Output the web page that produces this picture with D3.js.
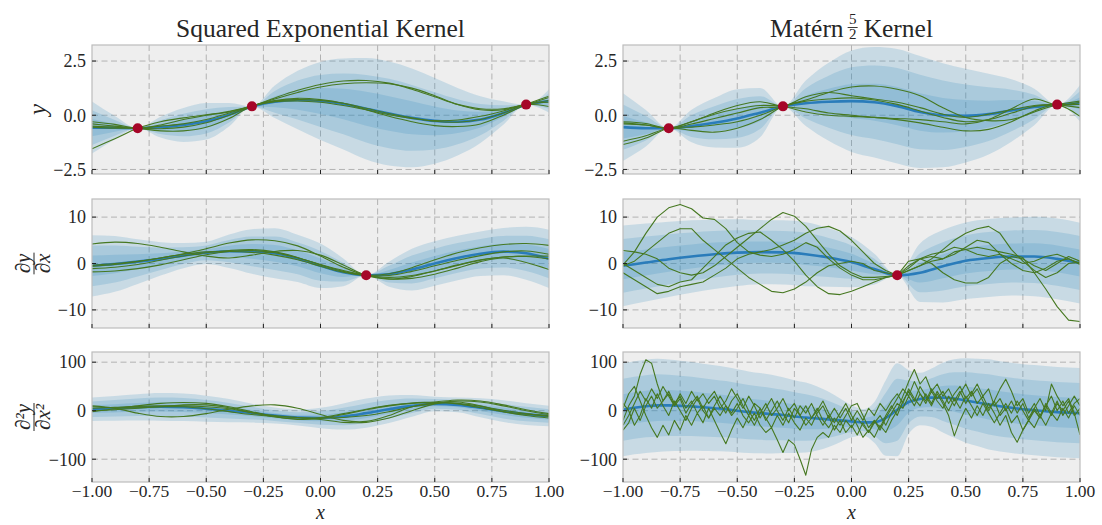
<!DOCTYPE html>
<html>
<head>
<meta charset="utf-8">
<script src="https://cdn.jsdelivr.net/npm/d3@7"></script>
<style>
  body { margin: 0; background: #fff; }
  svg text { font-family: "Liberation Serif", "DejaVu Serif", serif; fill: #262626; }
</style>
</head>
<body>
<svg id="chart" width="1102" height="525" font-family="Liberation Serif, DejaVu Serif, serif"></svg>
<script>
"use strict";

// ---- grids ----
var xCoarse = [-1,-0.9,-0.8,-0.7,-0.6,-0.5,-0.4,-0.3,-0.2,-0.1,0,0.1,0.2,0.3,0.4,0.5,0.6,0.7,0.8,0.9,1];
var xFine = [-1,-0.95,-0.9,-0.85,-0.8,-0.75,-0.7,-0.65,-0.6,-0.55,-0.5,-0.45,-0.4,-0.35,-0.3,-0.25,-0.2,-0.15,-0.1,-0.05,
  0,0.05,0.1,0.15,0.2,0.25,0.3,0.35,0.4,0.45,0.5,0.55,0.6,0.65,0.7,0.75,0.8,0.85,0.9,0.95,1];
var xNoisy = [-1,-0.975,-0.95,-0.925,-0.9,-0.875,-0.85,-0.825,-0.8,-0.775,-0.75,-0.725,-0.7,-0.675,-0.65,-0.625,-0.6,-0.575,-0.55,-0.525,
  -0.5,-0.475,-0.45,-0.425,-0.4,-0.375,-0.35,-0.325,-0.3,-0.275,-0.25,-0.225,-0.2,-0.175,-0.15,-0.125,-0.1,-0.075,-0.05,-0.025,
  0,0.025,0.05,0.075,0.1,0.125,0.15,0.175,0.2,0.225,0.25,0.275,0.3,0.325,0.35,0.375,0.4,0.425,0.45,0.475,
  0.5,0.525,0.55,0.575,0.6,0.625,0.65,0.675,0.7,0.725,0.75,0.775,0.8,0.825,0.85,0.875,0.9,0.925,0.95,0.975,1];

// ---- observations ----
var obsX = [-0.8, -0.3, 0.9];
var obsY = [-0.6, 0.41, 0.49];
var obsDx = [0.2];
var obsDy = [-2.55];

// ---- squared exponential: y ----
var seYMean = [-0.57,-0.58,-0.6,-0.55,-0.45,-0.28,0.02,0.4,0.62,0.7,0.66,0.52,0.3,0.08,-0.12,-0.26,-0.3,-0.2,0.1,0.48,0.66];
var seYSd = [0.4,0.18,0,0.16,0.26,0.28,0.18,0,0.25,0.45,0.6,0.7,0.78,0.8,0.76,0.66,0.52,0.36,0.18,0,0.18];
var seYS1 = [-0.3,-0.42,-0.6,-0.45,-0.2,0,0.18,0.42,0.8,1.15,1.42,1.58,1.6,1.48,1.2,0.85,0.5,0.3,0.3,0.5,0.82];
var seYS2 = [-0.5,-0.55,-0.6,-0.5,-0.4,-0.2,0.1,0.42,0.75,1.05,1.3,1.45,1.5,1.45,1.25,0.9,0.5,0.25,0.25,0.5,0.68];
var seYS3 = [-1.55,-1.08,-0.6,-0.3,-0.12,0.02,0.15,0.42,0.68,0.78,0.72,0.55,0.25,-0.05,-0.3,-0.48,-0.52,-0.4,0,0.5,0.88];
var seYS4 = [-0.55,-0.6,-0.6,-0.62,-0.55,-0.35,0,0.42,0.65,0.72,0.68,0.55,0.32,0.08,-0.12,-0.28,-0.32,-0.2,0.1,0.5,0.6];
var seYS5 = [-0.4,-0.5,-0.6,-0.72,-0.72,-0.55,-0.15,0.42,0.62,0.66,0.6,0.45,0.25,0.02,-0.15,-0.25,-0.22,-0.05,0.2,0.5,0.4];

// ---- squared exponential: dy/dx ----
var seDyMean = [-0.5,-0.1,0.4,1,1.7,2.3,2.65,2.6,2.2,1.1,-0.5,-1.9,-2.55,-2.3,-1.3,0,1.2,2.1,2.55,2.2,1];
var seDySd = [2.2,2,1.6,1.2,0.9,0.8,1.2,1.6,1.8,1.7,1.6,1,0,0.9,1.5,1.6,1.6,1.6,1.7,1.9,2.1];
var seDyS1 = [4.2,4.6,4.3,3.5,2.5,1.6,1.2,1.8,2.6,2.8,1.8,-0.3,-2.55,-3.4,-2.8,-1.6,-0.3,0.8,1.4,1.6,1.6];
var seDyS2 = [-0.4,0,0.5,1.2,2.1,3.2,4.4,5.1,4.9,3.8,1.6,-0.8,-2.55,-3,-2.6,-1.6,-0.4,0.7,1.4,1.5,1];
var seDyS3 = [-0.6,-0.2,0.4,1.2,2,2.5,2.6,2.4,1.8,0.8,-0.6,-1.9,-2.55,-2.2,-0.9,0.8,2.3,3.4,4.1,4.3,3.9];
var seDyS4 = [-1.1,-0.8,-0.2,0.7,1.6,2.3,2.8,3,2.5,1.3,-0.3,-1.7,-2.55,-2.6,-1.7,-0.5,0.7,1.7,2.5,2.7,2];
var seDyS5 = [-1.8,-1.6,-1.1,-0.3,0.8,1.9,2.6,2.8,2.3,1.2,-0.2,-1.5,-2.55,-3.3,-3.2,-2.3,-1,0.4,1.2,0.2,-1.3];

// ---- squared exponential: d2y/dx2 ----
var seD2Mean = [3,5,7,8,7,4,0,-5,-10,-14,-15,-12,-5,3,10,14,12,6,-1,-7,-11];
var seD2Sd = [8,8.5,9,9.5,9.5,9,8,6.5,5.5,5.5,7,9,10,9.5,7.5,5,5,6.5,7.5,7.5,7];
var seD2S1 = [10,5,-5,-12,-12,-6,3,10,12,5,-8,-20,-22,-10,8,16,14,6,-2,-7,-10];
var seD2S2 = [-2,4,10,15,17,15,8,-2,-12,-18,-16,-8,2,10,15,17,15,9,1,-6,-12];
var seD2S3 = [5,7,9,10,10,8,4,-4,-10,-14,-15,-14,-10,-2,8,15,20,18,10,0,-8];
var seD2S4 = [8,6,6,8,12,12,6,-4,-13,-17,-14,-6,3,11,16,18,22,20,12,2,-6];
var seD2S5 = [0,2,5,8,8,4,-2,-8,-12,-14,-18,-24,-24,-15,0,14,18,10,-2,-10,-15];

// ---- matern 5/2: y ----
var maYMean = [-0.55,-0.6,-0.6,-0.5,-0.35,-0.15,0.12,0.4,0.55,0.62,0.65,0.6,0.42,0.15,0,-0.02,0.05,0.22,0.38,0.48,0.55];
var maYSd = [0.52,0.28,0,0.25,0.38,0.45,0.38,0,0.35,0.6,0.78,0.85,0.88,0.86,0.8,0.72,0.62,0.48,0.28,0,0.28];
var maYS1 = [-0.3,-0.38,-0.6,-0.3,0.1,0.45,0.62,0.4,0.3,0.1,0,-0.1,-0.15,-0.2,-0.3,-0.4,-0.2,0.3,0.75,0.48,0.6];
var maYS2 = [-0.4,-0.45,-0.6,-0.4,-0.15,0.1,0.35,0.4,0.85,1.05,0.9,0.75,0.6,0.35,0.05,-0.1,0.05,0.25,0.45,0.48,0.35];
var maYS3 = [-1.2,-0.95,-0.6,-0.7,-0.78,-0.6,-0.2,0.4,0.7,1.05,1.3,1.35,1.2,0.9,0.35,-0.1,-0.25,-0.2,0.15,0.48,0.65];
var maYS4 = [-1.35,-1.05,-0.6,-0.55,-0.45,-0.3,0,0.4,0.65,0.75,0.8,0.7,0.5,0.2,-0.1,-0.3,-0.2,0.1,0.4,0.48,0.5];
var maYS5 = [-0.35,-0.45,-0.6,-0.3,0.05,0.3,0.45,0.4,0.15,0,-0.05,-0.1,-0.2,-0.35,-0.55,-0.72,-0.65,-0.3,0.2,0.48,-0.05];

// ---- matern 5/2: dy/dx ----
var maDyMean = [-0.5,0.2,0.9,1.5,2,2.35,2.45,2.4,2,1.3,0.3,-1.2,-2.55,-2,-0.6,0.6,1.2,1.5,1.5,1,0.1];
var maDySd = [2.9,2.8,2.7,2.6,2.5,2.4,2.3,2.3,2.3,2.1,1.8,1.1,0,2.1,2.6,2.75,2.8,2.8,2.85,2.9,2.9];
var maDyS1 = [-0.3,2.5,6.5,10,12,12.7,11.8,9.8,9.5,7.5,4.5,2.5,1.8,1.5,2,3,4.5,3.5,1,-1,
  -2.5,-3.5,-3.5,-3,-2.55,-1.5,-0.5,0.5,1,2.5,3,3.5,3,2.5,2,1.3,-2,-5.5,-9.3,-12.2,-12.5];
var maDyS2 = [2.8,2.5,2,1,-1,-2,-2.5,-2,-0.5,1.5,3.5,5.5,7.5,9.5,11,10.2,8,5,2,-0.5,
  -2,-3,-3,-2.8,-2.55,-1,1,1.5,1,2,3.5,5,4.5,2,0,-1.5,-2,-1,0.5,1,-0.2];
var maDyS3 = [-2,-3.5,-5,-6.5,-6,-5,-4.5,-4,-2.5,-1,1,2,2.5,3,4,5,6.5,7.6,8,7,
  5,2.5,0,-1.5,-2.55,-1.5,-0.5,1,3,5,6.5,7.5,8,6.5,3,0.5,-1.5,-3,-2,0,0.3];
var maDyS4 = [-0.5,0.5,2.5,4.5,6.5,7.5,7.5,5,3,1,-1,-3,-4.5,-6,-6.3,-5.5,-4,-2,-0.5,0,
  0.5,0,-1.5,-2,-2.55,0.5,1,2,2.5,3.5,3,2,1.5,2,1,0,0.5,1.5,2,1,0];
var maDyS5 = [0,-1.5,-3,-4.5,-5,-4,-3.5,-1,1.5,4,5.5,6.5,6.8,5,3,0.5,-2.5,-5,-6.5,-6.7,
  -6,-5,-4,-3,-2.55,-0.5,1,0,-2,-3.5,-4.2,-4.2,-3,0,1.5,1,-0.5,-1.5,0,1.5,0.5];

// ---- matern 5/2: d2y/dx2 ----
var maD2Mean = [2,6,9,11,11,10,9,7,5,3,0,-3,-5,-7,-9,-12,-14,-16,-18,-20,
  -22,-24,-24,-15,2,18,24,27,27,25,21,17,13,9,6,3,1,-1,-3,-4,-5];
var maD2Sd = [32,32,32,32,31.5,31,30.5,30,29.5,29,28.5,28,27.5,27,26,25,24,22,19,15,
  11,9,14,26,32,22,18,20,24,27,29,30,31,31,31,31,31,31,31,31,31];
var maD2S1 = [-20,10,30,75,105,98,55,20,35,10,25,-5,15,30,5,25,40,15,-5,20,
  35,10,-10,15,5,-20,0,20,-5,-25,5,-10,-30,-15,5,-20,-35,-15,-30,-10,
  10,15,-10,-35,-20,-40,-15,5,25,45,30,60,35,20,45,25,40,15,35,50,
  25,40,15,30,5,20,45,65,40,10,25,-5,15,-10,10,30,0,20,-5,15,25];
var maD2S2 = [-40,-25,5,-20,10,30,5,20,40,15,30,5,20,-5,10,-15,5,-10,10,-5,
  15,-10,-25,-5,-30,-45,-35,-60,-86,-60,-70,-100,-133,-80,-55,-45,-55,-30,-45,-20,
  -35,-15,-30,-45,-25,-10,-30,-5,15,5,30,10,35,15,40,20,5,30,10,35,
  55,30,45,20,0,20,-10,5,-25,-10,-40,-20,0,-15,10,-10,15,0,20,-10,5];
var maD2S3 = [5,35,50,20,-10,-35,-55,-30,-50,-20,-40,-10,-30,-5,-25,5,-20,-45,-68,-40,
  -15,-35,-10,-30,-5,15,-10,5,25,0,15,-10,10,-15,0,20,-5,-25,-5,15,
  -10,-30,-55,-40,-55,-30,-45,-20,0,30,60,85,55,70,40,55,30,45,20,40,
  15,35,55,30,45,10,25,0,20,-5,15,-15,5,25,0,55,30,10,25,-5,-50];
var maD2S4 = [-30,-10,15,40,20,45,25,50,30,10,35,15,40,20,35,15,30,5,20,45,
  25,5,30,10,-15,5,25,0,-20,5,-15,10,-5,15,-10,-30,-10,-40,-20,-45,
  -30,-50,-25,-45,-20,-35,-10,10,-10,20,40,20,50,30,10,35,15,-10,-52,-20,
  5,-15,10,-10,15,-5,-30,-10,-45,-65,-40,-20,-35,-10,-30,-5,-20,5,-15,10,-10];
var maD2S5 = [15,0,-30,-10,25,5,35,10,-10,20,0,-20,5,25,0,-15,10,30,10,-10,
  5,25,0,-20,5,-15,-35,-10,-30,-5,-25,-40,-15,-30,-5,10,-15,5,-15,5,
  -20,0,-20,5,-10,15,0,20,35,15,45,25,10,35,15,40,20,0,25,5,
  30,10,-10,15,-5,-25,-5,15,-5,20,0,-20,5,-15,15,-5,20,-10,10,30,10];

// ---- axes ----
var xTicks = [-1,-0.75,-0.5,-0.25,0,0.25,0.5,0.75,1];
var rowDomains = [[-2.71, 3.24], [-13.9, 13.9], [-147, 121]];
var rowTicks = [[-2.5, 0, 2.5], [-10, 0, 10], [-100, 0, 100]];
var rowFormats = [d3.format(".1f"), d3.format("d"), d3.format("d")];

// ---- layout ----
var colLeft = [92, 623];
var panelW = 457;
var rowTop = [45, 199, 352];
var panelH = [129, 129, 130];
var serif = "Liberation Serif, DejaVu Serif, serif";

var bandColor = "#348ABD",
    meanColor = "#2a7cba",
    sampleColor = "#467821",
    obsColor = "#A60628";

var svg = d3.select("#chart");

var panels = [
  {row: 0, col: 0, gx: xCoarse, mean: seYMean, sd: seYSd, sx: xCoarse, samples: [seYS1, seYS2, seYS3, seYS4, seYS5], smooth: true, ox: obsX, oy: obsY},
  {row: 1, col: 0, gx: xCoarse, mean: seDyMean, sd: seDySd, sx: xCoarse, samples: [seDyS1, seDyS2, seDyS3, seDyS4, seDyS5], smooth: true, ox: obsDx, oy: obsDy},
  {row: 2, col: 0, gx: xCoarse, mean: seD2Mean, sd: seD2Sd, sx: xCoarse, samples: [seD2S1, seD2S2, seD2S3, seD2S4, seD2S5], smooth: true, ox: [], oy: []},
  {row: 0, col: 1, gx: xCoarse, mean: maYMean, sd: maYSd, sx: xCoarse, samples: [maYS1, maYS2, maYS3, maYS4, maYS5], smooth: true, ox: obsX, oy: obsY},
  {row: 1, col: 1, gx: xCoarse, mean: maDyMean, sd: maDySd, sx: xFine, samples: [maDyS1, maDyS2, maDyS3, maDyS4, maDyS5], smooth: false, ox: obsDx, oy: obsDy},
  {row: 2, col: 1, gx: xFine, mean: maD2Mean, sd: maD2Sd, sx: xNoisy, samples: [maD2S1, maD2S2, maD2S3, maD2S4, maD2S5], smooth: false, ox: [], oy: []}
];

var x = d3.scaleLinear().domain([-1, 1]).range([0, panelW]);

panels.forEach(function(p, i) {
  var h = panelH[p.row];
  var y = d3.scaleLinear().domain(rowDomains[p.row]).range([h, 0]);
  var g = svg.append("g")
    .attr("transform", "translate(" + colLeft[p.col] + "," + rowTop[p.row] + ")");

  g.append("clipPath").attr("id", "clip" + i)
    .append("rect").attr("width", panelW).attr("height", h);

  g.append("rect").attr("width", panelW).attr("height", h).attr("fill", "#eeeeee");

  // grid
  g.selectAll(".vgrid").data(xTicks.slice(1, -1)).enter().append("line")
    .attr("x1", function(d) { return x(d); }).attr("x2", function(d) { return x(d); })
    .attr("y1", 0).attr("y2", h)
    .attr("stroke", "#b2b2b2").attr("stroke-width", 1).attr("stroke-dasharray", "6,3.5");
  g.selectAll(".hgrid").data(rowTicks[p.row]).enter().append("line")
    .attr("x1", 0).attr("x2", panelW)
    .attr("y1", function(d) { return y(d); }).attr("y2", function(d) { return y(d); })
    .attr("stroke", "#b2b2b2").attr("stroke-width", 1).attr("stroke-dasharray", "6,3.5");

  var plot = g.append("g").attr("clip-path", "url(#clip" + i + ")");

  // uncertainty bands: 3, 2, 1 sd
  [3, 2, 1].forEach(function(k) {
    var area = d3.area()
      .x(function(d, j) { return x(p.gx[j]); })
      .y0(function(d, j) { return y(p.mean[j] - k * p.sd[j]); })
      .y1(function(d, j) { return y(p.mean[j] + k * p.sd[j]); })
      .curve(d3.curveMonotoneX);
    plot.append("path").datum(p.mean)
      .attr("d", area)
      .attr("fill", bandColor).attr("fill-opacity", 0.2);
  });

  var meanLine = d3.line()
    .x(function(d, j) { return x(p.gx[j]); })
    .y(function(d) { return y(d); })
    .curve(d3.curveMonotoneX);
  plot.append("path").datum(p.mean)
    .attr("d", meanLine)
    .attr("fill", "none").attr("stroke", meanColor).attr("stroke-width", 2.6);

  var sampleLine = d3.line()
    .x(function(d, j) { return x(p.sx[j]); })
    .y(function(d) { return y(d); })
    .curve(p.smooth ? d3.curveCatmullRom : d3.curveLinear);
  plot.selectAll(".sample").data(p.samples).enter().append("path")
    .attr("d", sampleLine)
    .attr("fill", "none").attr("stroke", sampleColor)
    .attr("stroke-width", 1.1).attr("stroke-linejoin", "round");

  plot.selectAll(".obs").data(p.ox).enter().append("circle")
    .attr("cx", function(d) { return x(d); })
    .attr("cy", function(d, j) { return y(p.oy[j]); })
    .attr("r", 5).attr("fill", obsColor);

  // spines
  g.append("rect").attr("width", panelW).attr("height", h)
    .attr("fill", "none").attr("stroke", "#bcbcbc").attr("stroke-width", 1.2);

  // inward ticks
  g.selectAll(".xt").data(xTicks).enter().append("line")
    .attr("x1", function(d) { return x(d); }).attr("x2", function(d) { return x(d); })
    .attr("y1", h).attr("y2", h - 4)
    .attr("stroke", "#222").attr("stroke-width", 1);
  g.selectAll(".yt").data(rowTicks[p.row]).enter().append("line")
    .attr("x1", 0).attr("x2", 4)
    .attr("y1", function(d) { return y(d); }).attr("y2", function(d) { return y(d); })
    .attr("stroke", "#222").attr("stroke-width", 1);

  g.selectAll(".ylab").data(rowTicks[p.row]).enter().append("text")
    .attr("x", -6).attr("y", function(d) { return y(d); })
    .attr("dy", "0.35em").attr("text-anchor", "end")
    .attr("font-family", serif).style("font-size", "18px")
    .text(rowFormats[p.row]);

  if (p.row === 2) {
    g.selectAll(".xlab").data(xTicks).enter().append("text")
      .attr("x", function(d) { return x(d); }).attr("y", h + 15)
      .attr("text-anchor", "middle")
      .attr("font-family", serif).style("font-size", "17.5px")
      .text(d3.format(".2f"));
    g.append("text")
      .attr("x", panelW / 2).attr("y", h + 37)
      .attr("text-anchor", "middle")
      .attr("font-family", serif)
      .style("font-size", "20px").style("font-style", "italic")
      .text("x");
  }
});

// titles
svg.append("text")
  .attr("x", colLeft[0] + panelW / 2).attr("y", 37)
  .attr("text-anchor", "middle")
  .attr("font-family", serif).style("font-size", "25.5px")
  .text("Squared Exponential Kernel");

var tg = svg.append("g");
var t1 = tg.append("text").attr("x", 0).attr("y", 37)
  .attr("font-family", serif).style("font-size", "25.5px").text("Matérn");
var w1 = t1.node().getComputedTextLength();
var fx = w1 + 9;
tg.append("text").attr("x", fx).attr("y", 24).attr("text-anchor", "middle")
  .attr("font-family", serif).style("font-size", "15px").text("5");
tg.append("line").attr("x1", fx - 5).attr("x2", fx + 5).attr("y1", 27.5).attr("y2", 27.5)
  .attr("stroke", "#262626").attr("stroke-width", 0.9);
tg.append("text").attr("x", fx).attr("y", 39).attr("text-anchor", "middle")
  .attr("font-family", serif).style("font-size", "15px").text("2");
var t2 = tg.append("text").attr("x", fx + 11).attr("y", 37)
  .attr("font-family", serif).style("font-size", "25.5px").text("Kernel");
var total = fx + 11 + t2.node().getComputedTextLength();
tg.attr("transform", "translate(" + (colLeft[1] + panelW / 2 - total / 2) + ",0)");

// y axis labels
svg.append("text")
  .attr("transform", "translate(46," + (rowTop[0] + panelH[0] / 2) + ") rotate(-90)")
  .attr("text-anchor", "middle")
  .attr("font-family", serif)
  .style("font-size", "25px").style("font-style", "italic")
  .text("y");

function fracLabel(cx, cy, num, den) {
  var fg = svg.append("g").attr("transform", "translate(" + cx + "," + cy + ") rotate(-90)");
  var a = fg.append("text").attr("y", -4).attr("text-anchor", "middle")
    .attr("font-family", serif)
    .style("font-size", "21px").style("font-style", "italic").text(num);
  var b = fg.append("text").attr("y", 16).attr("text-anchor", "middle")
    .attr("font-family", serif)
    .style("font-size", "21px").style("font-style", "italic").text(den);
  var w = Math.max(a.node().getComputedTextLength(), b.node().getComputedTextLength()) + 2;
  fg.append("line").attr("x1", -w / 2).attr("x2", w / 2).attr("y1", 0).attr("y2", 0)
    .attr("stroke", "#262626").attr("stroke-width", 1);
}
fracLabel(34, rowTop[1] + panelH[1] / 2, "\u2202y", "\u2202x");
fracLabel(34, rowTop[2] + panelH[2] / 2, "\u2202\u00b2y", "\u2202x\u00b2");
</script>
</body>
</html>
